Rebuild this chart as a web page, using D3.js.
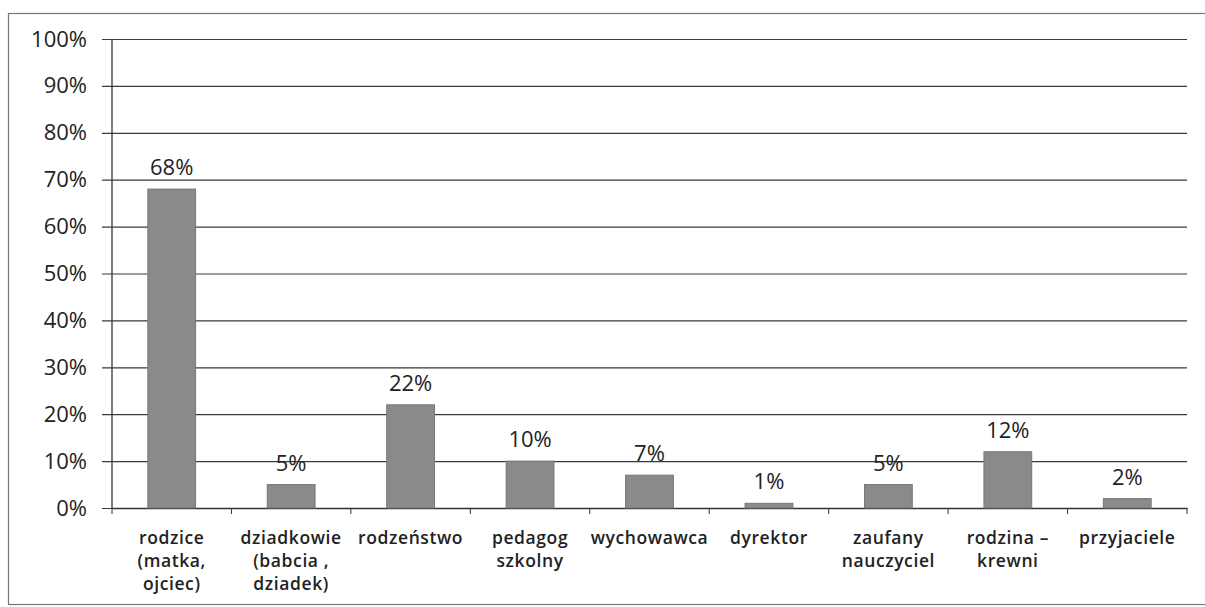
<!DOCTYPE html>
<html>
<head>
<meta charset="utf-8">
<script src="https://cdn.jsdelivr.net/npm/d3@7/dist/d3.min.js"></script>
<style>
  body { margin: 0; background: #fff; }
  text { font-family: "Open Sans", sans-serif; fill: #222; }
</style>
</head>
<body>
<div id="chart"></div>
<script>
// categories, split into the lines they are shown on
const categories = [
    ["rodzice", "(matka,", "ojciec)"],
    ["dziadkowie", "(babcia ,", "dziadek)"],
    ["rodzeństwo"],
    ["pedagog", "szkolny"],
    ["wychowawca"],
    ["dyrektor"],
    ["zaufany", "nauczyciel"],
    ["rodzina –", "krewni"],
    ["przyjaciele"]
];
const values = [68, 5, 22, 10, 7, 1, 5, 12, 2];
const yTicks = [0, 10, 20, 30, 40, 50, 60, 70, 80, 90, 100];

let width = 1205, height = 607;
let margin = { left: 112, right: 18, top: 39, bottom: 99 };

let svg = d3.select("#chart").append("svg")
    .attr("width", width)
    .attr("height", height)

// outer frame
svg.append("rect")
    .attr("x", 8.5).attr("y", 13.5)
    .attr("width", width).attr("height", 591)
    .attr("fill", "none")
    .attr("stroke", "#777")
    .attr("stroke-width", 1.2)

const x = d3.scaleBand()
    .domain(d3.range(categories.length))
    .range([margin.left, width - margin.right])
    .paddingInner(0.6)
    .paddingOuter(0.3);

const y = d3.scaleLinear()
    .domain([0, 100])
    .range([height - margin.bottom, margin.top]);

// gridlines + y labels
const yAxis = svg.append("g")
    .attr("transform", `translate(${margin.left}, 0)`)
    .call(d3.axisLeft(y)
        .tickValues(yTicks)
        .tickFormat(d => d + "%")
        .tickSize(-(width - margin.left - margin.right))
        .tickPadding(25));
yAxis.select(".domain").remove();
yAxis.selectAll(".tick line")
    .attr("x1", -10)
    .attr("stroke", "#3a3a3a")
    .attr("stroke-width", 1.2);
yAxis.selectAll(".tick text")
    .attr("font-size", 22)
    .attr("fill", "#222");

// axis lines
svg.append("line")
    .attr("x1", margin.left).attr("x2", margin.left)
    .attr("y1", y(100)).attr("y2", y(0))
    .attr("stroke", "#333").attr("stroke-width", 1.3);

const xAxis = svg.append("g")
    .attr("transform", `translate(0, ${y(0)})`)
    .call(d3.axisBottom(x).tickSize(0).tickFormat(""));
xAxis.select(".domain").attr("stroke", "#333").attr("stroke-width", 1.3);

// tick marks between categories
const step = x.step();
svg.append("g").selectAll("line")
    .data(d3.range(categories.length + 1))
    .enter().append("line")
    .attr("x1", i => margin.left + i * step)
    .attr("x2", i => margin.left + i * step)
    .attr("y1", y(0))
    .attr("y2", y(0) + 6)
    .attr("stroke", "#333");

// bars
svg.append("g").selectAll("rect")
    .data(values)
    .enter().append("rect")
    .attr("x", (d, i) => x(i))
    .attr("width", x.bandwidth())
    .attr("y", d => y(d))
    .attr("height", d => y(0) - y(d))
    .attr("fill", "#8a8a8a")
    .attr("stroke", "#777");

// value labels
svg.append("g").selectAll("text")
    .data(values)
    .enter().append("text")
    .attr("x", (d, i) => x(i) + x.bandwidth() / 2)
    .attr("y", d => y(d) - 14)
    .attr("text-anchor", "middle")
    .attr("font-size", 22)
    .text(d => d + "%");

// category labels
const cat = svg.append("g").selectAll("text")
    .data(categories)
    .enter().append("text")
    .attr("x", (d, i) => x(i) + x.bandwidth() / 2)
    .attr("y", y(0) + 36)
    .attr("text-anchor", "middle")
    .attr("font-size", 17.5)
    .attr("font-weight", 600)
    .attr("letter-spacing", 0.6);

cat.selectAll("tspan")
    .data(d => d)
    .enter().append("tspan")
    .attr("x", function () { return this.parentNode.getAttribute("x"); })
    .attr("dy", (d, i) => i === 0 ? 0 : 23)
    .text(d => d);
</script>
</body>
</html>
